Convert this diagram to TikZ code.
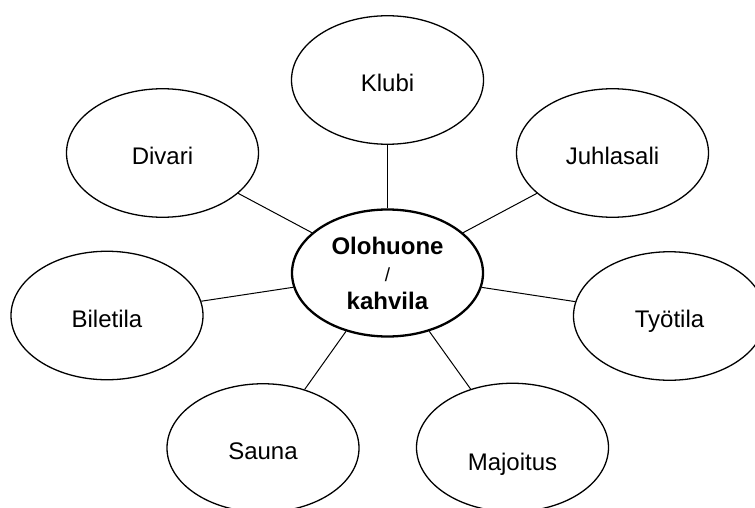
\documentclass[tikz,border=0pt]{standalone}
\usepackage{fontspec}
\setmainfont{Liberation Sans}
\usetikzlibrary{shapes.geometric}

\tikzset{
  bubble/.style={ellipse, draw=black, fill=white, line width=1.3pt,
    minimum width=192pt, minimum height=128.5pt, inner sep=0pt,
    font=\fontsize{24}{28}\selectfont, text height=#1, text depth=0pt},
  bubble/.default=23pt,
  hub/.style={ellipse, draw=black, fill=white, line width=2.3pt,
    minimum width=191pt, minimum height=127pt, inner sep=0pt,
    align=center, font=\fontsize{24}{27.5}\selectfont},
  link/.style={draw=black, line width=1pt}
}

\begin{document}
\begin{tikzpicture}[x=1pt, y=1pt]
  \fill[white] (0,0) rectangle (755,-508);
  \useasboundingbox (0,0) rectangle (755,-508);

  % central node
  \node[hub] (hub) at (387.5,-273)
    {\textbf{Olohuone}\\{\fontsize{19}{27.5}\selectfont /}\\\textbf{kahvila}};

  % surrounding spaces
  \node[bubble] (klubi)   at (387.5,-80)   {Klubi};
  \node[bubble] (divari)  at (162.5,-153)  {Divari};
  \node[bubble] (juhla)   at (612.5,-153)  {Juhlasali};
  \node[bubble] (bilet)   at (107,-315.5)  {Biletila};
  \node[bubble] (tyo)     at (669.5,-316)  {Työtila};
  \node[bubble] (sauna)   at (263,-448)    {Sauna};
  \node[bubble=45pt] (majo) at (512.5,-447.5) {Majoitus};

  % spokes from the hub
  \foreach \n in {klubi, divari, juhla, bilet, tyo, sauna, majo}
    \draw[link] (hub) -- (\n);
\end{tikzpicture}
\end{document}
